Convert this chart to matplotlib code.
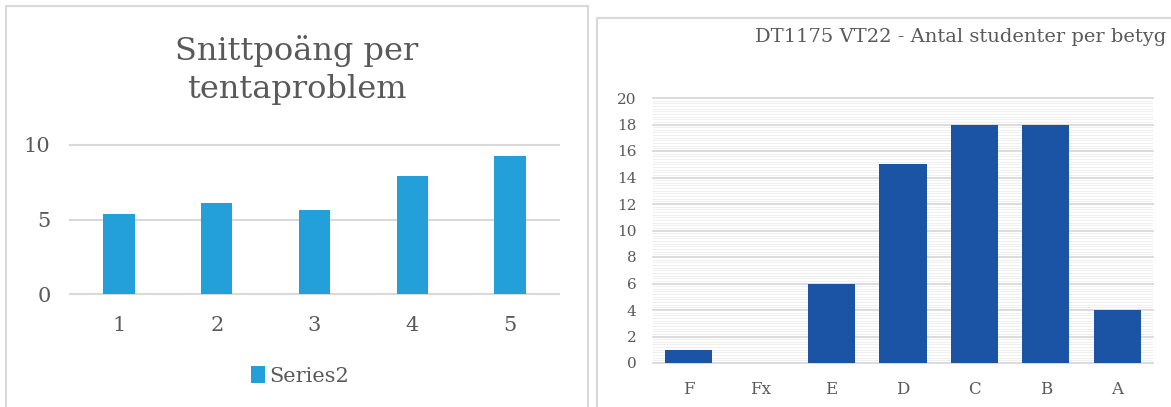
import matplotlib
matplotlib.use("Agg")
import matplotlib.pyplot as plt
from matplotlib.patches import Rectangle
import numpy as np

# ---- data ----
problems = ["1", "2", "3", "4", "5"]
avg_points = [5.37, 6.13, 5.64, 7.94, 9.24]
left_title = "Snittpoäng per\ntentaproblem"
left_series = "Series2"
left_yticks = [0, 5, 10]

grades = ["F", "Fx", "E", "D", "C", "B", "A"]
students = [1, 0, 6, 15, 18, 18, 4]
right_title = "DT1175 VT22 - Antal studenter per betyg"
right_yticks = [0, 2, 4, 6, 8, 10, 12, 14, 16, 18, 20]

W, H = 1171, 407
FONT = "DejaVu Serif"
TXT = "#595959"
GRID = "#d9d9d9"

fig = plt.figure(figsize=(W / 100, H / 100), dpi=100)
fig.patch.set_facecolor("white")

def ax_px(x0, y_top, x1, y_bot):
    return fig.add_axes([x0 / W, 1 - y_bot / H, (x1 - x0) / W, (y_bot - y_top) / H])

# panel borders
fig.patches.append(Rectangle((6 / W, -0.05), (588 - 6) / W, 1 - 6 / H + 0.05,
                             transform=fig.transFigure, fill=False, edgecolor=GRID, lw=1.5))
fig.patches.append(Rectangle((597 / W, -0.05), 0.6, 1 - 18 / H + 0.05,
                             transform=fig.transFigure, fill=False, edgecolor=GRID, lw=1.5))

# ---- left chart ----
ax1 = ax_px(70, 145, 559, 294)
x1 = np.arange(len(problems))
ax1.bar(x1, avg_points, width=0.32, color="#23a0da", zorder=3, label=left_series)
ax1.set_xlim(-0.5, len(problems) - 0.5)
ax1.set_ylim(0, 10)
ax1.set_yticks(left_yticks)
ax1.set_yticklabels([str(v) for v in left_yticks], fontsize=15, color=TXT, family=FONT)
ax1.set_xticks(x1)
ax1.set_xticklabels(problems, fontsize=15, color=TXT, family=FONT)
ax1.tick_params(length=0, pad=14)
ax1.tick_params(axis="x", pad=16)
for s in ax1.spines.values():
    s.set_visible(False)
ax1.grid(axis="y", color=GRID, lw=1.5, zorder=0)
ax1.set_axisbelow(True)
for gl in ax1.get_ygridlines():
    gl.set_clip_on(False)
fig.text(297 / W, 1 - 70 / H, left_title, ha="center", va="center", fontsize=23,
         color=TXT, family=FONT, linespacing=1.3)
leg = fig.legend(loc="center", bbox_to_anchor=(300 / W, 1 - 376 / H), frameon=False,
                 prop={"family": FONT, "size": 15}, handlelength=0.7, handleheight=0.9,
                 handletextpad=0.2)
for t in leg.get_texts():
    t.set_color(TXT)

# ---- right chart ----
ax2 = ax_px(653, 98, 1153, 363)
x2 = np.arange(len(grades))
ax2.bar(x2, students, width=0.66, color="#1c54a5", zorder=3)
ax2.set_xlim(-0.5, len(grades) - 0.5)
ax2.set_ylim(0, 20)
ax2.set_yticks(right_yticks)
ax2.set_yticklabels([str(v) for v in right_yticks], fontsize=11, color=TXT, family=FONT)
ax2.set_yticks(np.arange(0, 20.01, 0.2), minor=True)
ax2.set_xticks(x2)
ax2.set_xticklabels(grades, fontsize=12, color=TXT, family=FONT)
ax2.tick_params(which="both", length=0)
ax2.tick_params(axis="y", pad=12)
ax2.tick_params(axis="x", pad=13)
for s in ax2.spines.values():
    s.set_visible(False)
ax2.grid(axis="y", which="minor", color="#f0f0f0", lw=0.8, zorder=0)
ax2.grid(axis="y", which="major", color=GRID, lw=1.3, zorder=1)
ax2.set_axisbelow(True)
for gl in ax2.get_ygridlines():
    gl.set_clip_on(False)
fig.text(1166 / W, 1 - 37 / H, right_title, ha="right", va="center", fontsize=14,
         color=TXT, family=FONT)

fig.savefig("out.png", dpi=100, facecolor="white")
